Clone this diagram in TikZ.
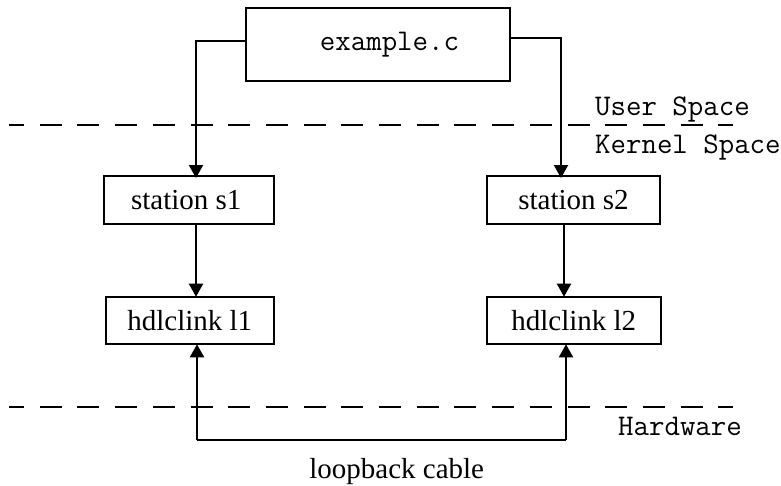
\documentclass[tikz,border=0pt]{standalone}
\usepackage{fontspec}
\setmainfont{Liberation Serif}
\usetikzlibrary{arrows.meta}
\begin{document}
\begin{tikzpicture}[x=1pt,y=-1pt,
  box/.style={draw,line width=2pt,inner sep=0pt,font=\fontsize{29}{30}\selectfont},
  arr/.style={line width=2pt,-{Triangle[width=14pt,length=13pt]}},
  sep/.style={line width=2pt,dash pattern=on 22pt off 15.7pt,dash phase=7pt},
  mono/.style={font=\ttfamily\fontsize{30}{32}\selectfont,inner sep=0pt}]
\useasboundingbox (0,0) rectangle (781,485);
\node[box,minimum width=264pt,minimum height=73pt,font=\ttfamily\fontsize{30}{32}\selectfont] (ex) at (378,44.5) {\hspace*{23pt}example.c};
\node[box,minimum width=170.5pt,minimum height=48pt] (s1) at (188.75,200) {station s1\hspace*{5pt}};
\node[box,minimum width=173pt,minimum height=48pt] (s2) at (573.5,200) {station s2};
\node[box,minimum width=168.5pt,minimum height=47.6pt] (l1) at (189.75,320.5) {hdlclink l1};
\node[box,minimum width=173.5pt,minimum height=47.6pt] (l2) at (573.75,320.5) {hdlclink l2};
\coordinate (lb) at (197,440);
\coordinate (rb) at (566,440);
\draw[sep] (9,125) -- (733,125);
\draw[sep] (9,407) -- (733,407);
\draw[arr] (ex.west |- 0,41) -| ([yshift=-3pt]196,0 |- s1.north);
\draw[arr] (ex.east |- 0,38) -| ([yshift=-3pt]561,0 |- s2.north);
\draw[arr] (196,0 |- s1.south) -- ([yshift=-1pt]196,0 |- l1.north);
\draw[arr] (564,0 |- s2.south) -- ([yshift=-1pt]564,0 |- l2.north);
\draw[arr] (lb) -- ([yshift=1pt]197,0 |- l1.south);
\draw[arr] (rb) -- ([yshift=1pt]566,0 |- l2.south);
\draw[line width=2pt] (lb) -- (rb);
\node[mono,anchor=base west] (us) at (595,115) {User Space};
\node[mono,anchor=base west] (ks) at (595,153) {Kernel Space};
\node[mono,anchor=base west] (hw) at (618,435) {Hardware};
\node[anchor=base,inner sep=0pt,font=\fontsize{29}{30}\selectfont] (lc) at (396.7,478) {loopback cable};
\end{tikzpicture}
\end{document}
